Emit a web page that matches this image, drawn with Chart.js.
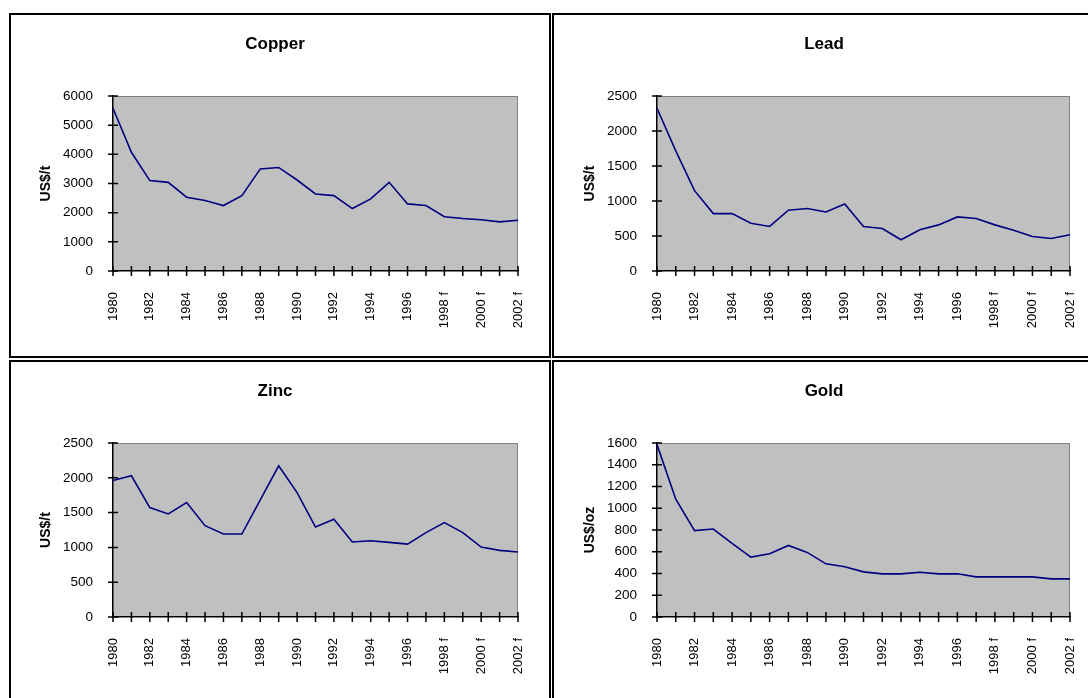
<!DOCTYPE html>
<html>
<head>
<meta charset="utf-8">
<script src="https://cdn.jsdelivr.net/npm/chart.js@4"></script>
<style>
  body { margin: 0; background: #fff; }
  .panel { position: absolute; border: 2px solid #000; box-sizing: border-box; width: 542px; height: 345px; }
  canvas { display: block; }
</style>
</head>
<body>
<div class="panel" style="left:9px;top:13px;"><canvas id="copperChart" width="538" height="341"></canvas></div>
<div class="panel" style="left:552px;top:13px;width:544px;"><canvas id="leadChart" width="540" height="341"></canvas></div>
<div class="panel" style="left:9px;top:360px;"><canvas id="zincChart" width="538" height="341"></canvas></div>
<div class="panel" style="left:552px;top:360px;width:544px;"><canvas id="goldChart" width="540" height="341"></canvas></div>
<script>
const years = ["1980", "1981", "1982", "1983", "1984", "1985", "1986", "1987", "1988", "1989",
  "1990", "1991", "1992", "1993", "1994", "1995", "1996", "1997", "1998 f", "1999 f",
  "2000 f", "2001 f", "2002 f"];

// US$/t
const copper = [5580, 4070, 3100, 3040, 2530, 2415, 2245, 2585, 3500, 3550, 3120, 2640,
  2585, 2140, 2470, 3040, 2300, 2245, 1860, 1800, 1755, 1685, 1740];
const lead = [2325, 1717, 1148, 820, 820, 683, 636, 868, 892, 844, 958, 636, 607, 446,
  588, 659, 773, 750, 659, 583, 493, 465, 517];
const zinc = [1962, 2029, 1572, 1481, 1644, 1312, 1192, 1192, 1683, 2173, 1788, 1293,
  1404, 1077, 1096, 1072, 1048, 1212, 1356, 1212, 1005, 957, 933];
// US$/oz
const gold = [1585, 1083, 794, 809, 677, 551, 582, 658, 594, 489, 462, 415, 397, 397,
  412, 397, 397, 369, 369, 369, 369, 351, 351];

const FONT = "'Liberation Sans', Arial, sans-serif";

// grey plot area + ticks that cross the axes, like the old spreadsheet charts
const excelLook = {
  id: 'excelLook',
  beforeDraw(chart) {
    const { ctx, chartArea: a } = chart;
    ctx.save();
    ctx.fillStyle = '#c0c0c0';
    ctx.fillRect(a.left, a.top, a.width, a.height);
    ctx.strokeStyle = '#808080';
    ctx.lineWidth = 1;
    ctx.beginPath();
    ctx.moveTo(a.left, a.top + 0.5);
    ctx.lineTo(a.right - 0.5, a.top + 0.5);
    ctx.lineTo(a.right - 0.5, a.bottom);
    ctx.stroke();
    ctx.restore();
  },
  afterDraw(chart) {
    const { ctx, chartArea: a } = chart;
    const xs = chart.scales.x, ys = chart.scales.y;
    ctx.save();
    ctx.strokeStyle = '#000';
    ctx.lineWidth = 1.5;
    ctx.beginPath();
    xs.ticks.forEach((t, i) => {
      const px = xs.getPixelForTick(i);
      ctx.moveTo(px, a.bottom - 5);
      ctx.lineTo(px, a.bottom + 5);
    });
    ys.ticks.forEach((t, i) => {
      const py = ys.getPixelForTick(i);
      ctx.moveTo(a.left - 5, py);
      ctx.lineTo(a.left + 5, py);
    });
    ctx.stroke();
    ctx.restore();
  }
};

const makeChart = (id, title, yTitle, values, yMax, yStep, g) => {
  const ctx = document.getElementById(id).getContext('2d');
  return new Chart(ctx, {
    type: 'line',
    data: {
      labels: years,
      datasets: [{
        data: values,
        borderColor: '#000080',
        borderWidth: 1.6,
        pointRadius: 0,
        fill: false,
        tension: 0,
      }],
    },
    options: {
      responsive: false,
      animation: false,
      devicePixelRatio: 1,
      layout: { padding: { left: g.pl, right: g.pr, top: 0, bottom: 0 } },
      plugins: {
        legend: { display: false },
        tooltip: { enabled: false },
        title: {
          display: true,
          text: title,
          color: '#000',
          font: { family: FONT, size: 17, weight: 'bold', lineHeight: 1.2 },
          padding: { top: 19.3, bottom: 41.3 },
        },
      },
      scales: {
        x: {
          grid: { display: false, drawTicks: false },
          border: { display: true, color: '#000', width: 1.5 },
          ticks: {
            autoSkip: false,
            maxRotation: 90,
            minRotation: 90,
            padding: 21,
            color: '#000',
            font: { family: FONT, size: 13 },
            callback: function (value, index) {
              return index % 2 === 0 ? this.getLabelForValue(value) : '';
            },
          },
          afterFit: (scale) => {
            scale.height = g.xH;
            scale.paddingLeft = 0;
            scale.paddingRight = 0;
          },
        },
        y: {
          min: 0,
          max: yMax,
          grid: { display: false, drawTicks: false },
          border: { display: true, color: '#000', width: 1.5 },
          ticks: {
            stepSize: yStep,
            padding: 20,
            color: '#000',
            font: { family: FONT, size: 13.5 },
            callback: (value) => String(value),
          },
          title: {
            display: true,
            text: yTitle,
            color: '#000',
            font: { family: FONT, size: 14, weight: 'bold', lineHeight: 1.2 },
            padding: { top: g.tp, bottom: 0 },
          },
          afterFit: (scale) => { scale.width = g.yW; },
        },
      },
    },
    plugins: [excelLook],
  });
};

makeChart('copperChart', 'Copper', 'US$/t', copper, 6000, 1000, { pl: 21, pr: 31, yW: 81, tp: 5.6, xH: 85 });
makeChart('leadChart', 'Lead', 'US$/t', lead, 2500, 500, { pl: 24, pr: 24, yW: 79, tp: 3.6, xH: 85 });
makeChart('zincChart', 'Zinc', 'US$/t', zinc, 2500, 500, { pl: 21, pr: 31, yW: 81, tp: 5.6, xH: 86 });
makeChart('goldChart', 'Gold', 'US$/oz', gold, 1600, 200, { pl: 24, pr: 24, yW: 79, tp: 3.6, xH: 86 });
</script>
</body>
</html>
